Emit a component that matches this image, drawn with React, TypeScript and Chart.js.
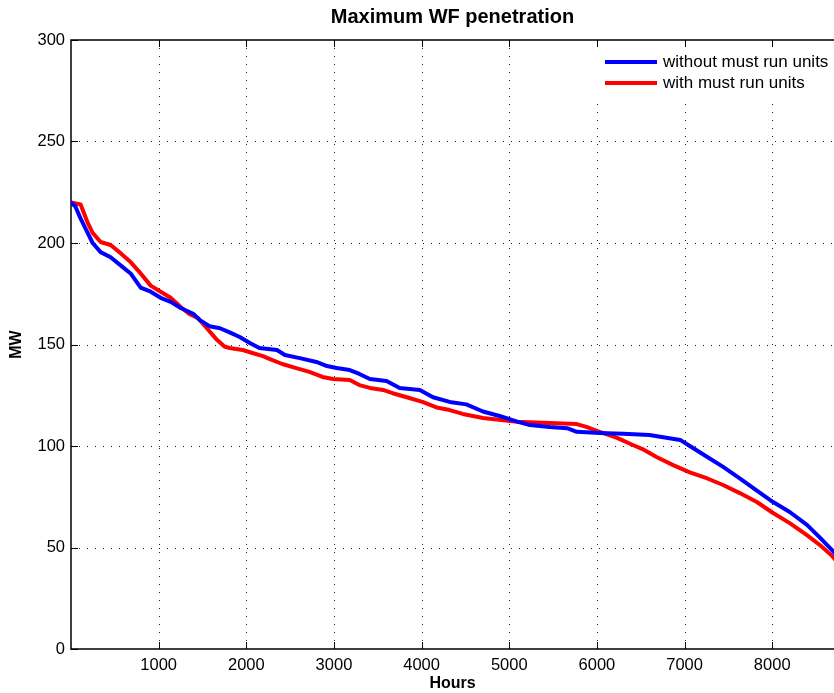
import React, { useEffect, useRef } from "react";
import { Chart, registerables } from "chart.js";

Chart.register(...registerables);

const chartTitle = "Maximum WF penetration";
const xAxisTitle = "Hours";
const yAxisTitle = "MW";
const seriesLabels = ["without must run units", "with must run units"];
const seriesColors = ["#0000ff", "#ff0000"];

const hoursWithout = [
  0, 50, 110, 190, 247, 338, 452, 566, 680, 795, 909, 1023, 1137, 1251, 1400, 1470, 1580, 1700, 1810,
  1925, 2040, 2150, 2350, 2440, 2610, 2800, 2920, 3030, 3180, 3290, 3410, 3600, 3750, 3980, 4130, 4320,
  4510, 4700, 4890, 5090, 5235, 5460, 5660, 5770, 6030, 6300, 6600, 6950, 7060, 7260, 7440, 7630, 7825,
  8010, 8200, 8400, 8550, 8680, 8760,
];
const mwWithout = [
  220, 218, 212, 205, 200, 195.5, 193, 189, 185, 178, 176, 173, 171, 168, 165, 162, 159, 158, 156,
  153.7, 150.7, 148.3, 147.3, 144.8, 143.3, 141.4, 139.4, 138.4, 137.4, 135.5, 133, 132, 128.6, 127.6, 124, 121.7,
  120.5, 117, 114.8, 112, 110.3, 109.4, 108.8, 107, 106.4, 106, 105.4, 103, 100, 94.6, 89.7, 84, 78,
  72.4, 67.5, 61, 54.6, 48.8, 45,
];

const hoursWith = [
  0, 110, 190, 247, 338, 452, 566, 680, 795, 909, 1023, 1137, 1251, 1350, 1450, 1550, 1650, 1750, 1810,
  1960, 2070, 2190, 2270, 2410, 2570, 2720, 2870, 2990, 3180, 3290, 3410, 3560, 3670, 3830, 4010, 4170,
  4320, 4470, 4700, 5090, 5460, 5770, 5880, 6000, 6230, 6410, 6520, 6680, 6870, 7060, 7260, 7440, 7630,
  7825, 8010, 8200, 8400, 8550, 8680, 8760,
];
const mwWith = [
  220, 219, 210, 205, 200.5, 199, 195, 190.6, 185, 179, 176, 173, 168.5, 165, 163, 158, 153, 149, 148.3,
  147.3, 145.8, 144.3, 142.8, 140.4, 138.4, 136.5, 134, 133, 132.5, 130, 128.6, 127.6, 126, 124, 121.7, 119,
  117.7, 115.8, 113.8, 112, 111.3, 110.8, 109.4, 107.4, 104, 100.5, 98.5, 94.6, 90.6, 87, 84, 80.8, 76.8,
  72.4, 67, 62, 56, 51, 46, 42,
];

const xTickValues = [1000, 2000, 3000, 4000, 5000, 6000, 7000, 8000];
const yTickValues = [0, 50, 100, 150, 200, 250, 300];
const xMin = 0;
const xMax = 8705;
const yMin = 0;
const yMax = 300;

const FONT = "'Liberation Sans', Arial, Helvetica, sans-serif";

const matlabAxes = {
  id: "matlabAxes",
  beforeDatasetsDraw(chart: any) {
    const { ctx, chartArea: a, scales } = chart;
    ctx.save();
    // dotted grid
    ctx.strokeStyle = "#222";
    ctx.lineWidth = 1;
    ctx.setLineDash([1, 7]);
    for (const t of scales.x.ticks) {
      const px = Math.round(scales.x.getPixelForValue(t.value)) + 0.5;
      ctx.beginPath();
      ctx.moveTo(px, a.bottom);
      ctx.lineTo(px, a.top);
      ctx.stroke();
    }
    for (const t of scales.y.ticks) {
      if (t.value === yMin || t.value === yMax) continue;
      const py = Math.round(scales.y.getPixelForValue(t.value)) + 0.5;
      ctx.beginPath();
      ctx.moveTo(a.left, py);
      ctx.lineTo(a.right, py);
      ctx.stroke();
    }
    ctx.setLineDash([]);
    // inward tick marks
    ctx.strokeStyle = "#000";
    ctx.lineWidth = 1;
    const tl = 7;
    for (const t of scales.x.ticks) {
      const px = Math.round(scales.x.getPixelForValue(t.value)) + 0.5;
      ctx.beginPath();
      ctx.moveTo(px, a.bottom);
      ctx.lineTo(px, a.bottom - tl);
      ctx.moveTo(px, a.top);
      ctx.lineTo(px, a.top + tl);
      ctx.stroke();
    }
    for (const t of scales.y.ticks) {
      const py = Math.round(scales.y.getPixelForValue(t.value)) + 0.5;
      ctx.beginPath();
      ctx.moveTo(a.left, py);
      ctx.lineTo(a.left + tl, py);
      ctx.stroke();
    }
    // axes box (right side is outside the picture)
    ctx.lineWidth = 1.5;
    ctx.beginPath();
    ctx.moveTo(a.right + 5, a.top);
    ctx.lineTo(a.left, a.top);
    ctx.lineTo(a.left, a.bottom);
    ctx.lineTo(a.right + 5, a.bottom);
    ctx.stroke();
    ctx.restore();
  },
  afterDraw(chart: any) {
    const { ctx, chartArea: a } = chart;
    ctx.save();
    ctx.fillStyle = "#ffffff";
    ctx.fillRect(a.right - 238, a.top + 8, 238, 50);
    ctx.font = `17px ${FONT}`;
    ctx.textBaseline = "middle";
    ctx.textAlign = "left";
    chart.data.datasets.forEach((ds: any, i: number) => {
      const y = a.top + 22 + i * 21;
      ctx.strokeStyle = ds.borderColor;
      ctx.lineWidth = 4;
      ctx.lineCap = "butt";
      ctx.beginPath();
      ctx.moveTo(a.right - 229, y);
      ctx.lineTo(a.right - 177, y);
      ctx.stroke();
      ctx.fillStyle = "#000";
      ctx.fillText(ds.label, a.right - 171, y);
    });
    ctx.restore();
  },
};

export default function App() {
  const canvasRef = useRef<HTMLCanvasElement | null>(null);

  useEffect(() => {
    const canvas = canvasRef.current;
    if (!canvas) return;
    const chart = new Chart(canvas, {
      type: "line",
      data: {
        datasets: [
          {
            label: seriesLabels[0],
            data: hoursWithout.map((h, i) => ({ x: h, y: mwWithout[i] })),
            borderColor: seriesColors[0],
            backgroundColor: seriesColors[0],
            borderWidth: 4,
            borderJoinStyle: "round",
            borderCapStyle: "round",
            pointRadius: 0,
            tension: 0,
          },
          {
            label: seriesLabels[1],
            data: hoursWith.map((h, i) => ({ x: h, y: mwWith[i] })),
            borderColor: seriesColors[1],
            backgroundColor: seriesColors[1],
            borderWidth: 4,
            borderJoinStyle: "round",
            borderCapStyle: "round",
            pointRadius: 0,
            tension: 0,
          },
        ],
      },
      options: {
        responsive: false,
        animation: false,
        layout: { padding: 0 },
        plugins: {
          legend: { display: false },
          tooltip: { enabled: false },
          title: {
            display: true,
            text: chartTitle,
            fullSize: false,
            color: "#000",
            font: { family: FONT, size: 20, weight: "bold", lineHeight: 1.2 },
            padding: { top: 5, bottom: 11 },
          },
        },
        scales: {
          x: {
            type: "linear",
            min: xMin,
            max: xMax,
            afterBuildTicks: (scale: any) => {
              scale.ticks = xTickValues.map((v) => ({ value: v }));
            },
            afterFit: (scale: any) => {
              scale.height = 44;
            },
            grid: { display: false, drawTicks: false },
            border: { display: false },
            ticks: {
              color: "#000",
              font: { family: FONT, size: 16.5 },
              padding: 7,
              maxRotation: 0,
              autoSkip: false,
              includeBounds: false,
              callback: (v: any) => String(v),
            },
            title: {
              display: true,
              text: xAxisTitle,
              color: "#000",
              font: { family: FONT, size: 16, weight: "bold", lineHeight: 1.2 },
              padding: { top: 0, bottom: 0 },
            },
          },
          y: {
            type: "linear",
            min: yMin,
            max: yMax,
            afterBuildTicks: (scale: any) => {
              scale.ticks = yTickValues.map((v) => ({ value: v }));
            },
            afterFit: (scale: any) => {
              scale.width = 71;
            },
            grid: { display: false, drawTicks: false },
            border: { display: false },
            ticks: {
              color: "#000",
              font: { family: FONT, size: 16.5 },
              padding: 6,
              autoSkip: false,
              callback: (v: any) => String(v),
            },
            title: {
              display: true,
              text: yAxisTitle,
              color: "#000",
              font: { family: FONT, size: 16, weight: "bold", lineHeight: 1.2 },
              padding: { top: 7, bottom: 0 },
            },
          },
        },
      },
      plugins: [matlabAxes],
    } as any);
    return () => chart.destroy();
  }, []);

  return (
    <div style={{ position: "absolute", left: 0, top: 0, width: 834, height: 693, background: "#fff" }}>
      <canvas ref={canvasRef} width={834} height={693} style={{ display: "block", width: 834, height: 693 }} />
    </div>
  );
}
